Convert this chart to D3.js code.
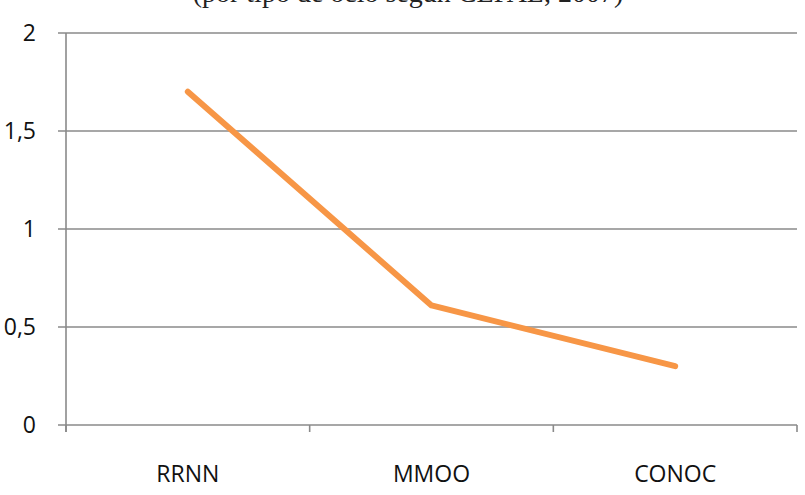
<!DOCTYPE html>
<html>
<head>
<meta charset="utf-8">
<script src="https://cdn.jsdelivr.net/npm/d3@7"></script>
<style>
  body { margin: 0; background: #fff; }
</style>
</head>
<body>
<script>
let width = 805;
let height = 495;

// data
let categories = ["RRNN", "MMOO", "CONOC"];
let values = [1.7, 0.61, 0.3];
let yTicks = [0, 0.5, 1, 1.5, 2];
let titleText = "(por tipo de ocio según CEPAL, 2007)";

let margin = {left: 66, right: 8, top: 33, bottom: 70};

let svg = d3.select("body").append("svg")
            .attr("width", width)
            .attr("height", height);

let x = d3.scaleBand()
          .domain(categories)
          .range([margin.left, width - margin.right]);

let y = d3.scaleLinear()
          .domain([0, 2])
          .range([height - margin.bottom, margin.top]);

// The title, cut off at the top
svg.append("text")
   .attr("x", 408)
   .attr("y", 1.5)
   .attr("text-anchor", "middle")
   .attr("font-family", "Liberation Serif")
   .attr("font-size", 28)
   .attr("fill", "#222")
   .text(titleText);

// gridlines
svg.append("g")
   .selectAll("line")
   .data(yTicks)
   .join("line")
   .attr("x1", margin.left - 8)
   .attr("x2", width - margin.right)
   .attr("y1", d => y(d))
   .attr("y2", d => y(d))
   .attr("stroke", "#8a8a8a")
   .attr("stroke-width", 1.6);

// y axis
let yAxis = svg.append("g")
   .attr("transform", `translate(${margin.left},0)`)
   .call(d3.axisLeft(y)
           .tickValues(yTicks)
           .tickSize(0)
           .tickPadding(30)
           .tickFormat(d => String(d).replace(".", ",")));
yAxis.select(".domain")
     .attr("stroke", "#8a8a8a")
     .attr("stroke-width", 1.6)
     .attr("d", `M0,${y(2)}V${y(0) + 7}`);
yAxis.selectAll("text")
     .attr("font-family", "Open Sans")
     .attr("font-size", 23)
     .attr("fill", "#111");

// x axis
let xAxis = svg.append("g")
   .attr("transform", `translate(0,${y(0)})`)
   .call(d3.axisBottom(x).tickSize(0).tickPadding(41));
xAxis.select(".domain").remove();
xAxis.selectAll("text")
     .attr("font-family", "Open Sans")
     .attr("font-size", 23)
     .attr("fill", "#111");

// x tick marks at band boundaries
let bounds = categories.map(c => x(c)).concat([x(categories[categories.length - 1]) + x.bandwidth()]);
svg.append("g")
   .selectAll("line")
   .data(bounds)
   .join("line")
   .attr("x1", d => d)
   .attr("x2", d => d)
   .attr("y1", y(0))
   .attr("y2", y(0) + 7)
   .attr("stroke", "#8a8a8a")
   .attr("stroke-width", 1.6);

// The line
let line = d3.line()
             .x((d, i) => x(categories[i]) + x.bandwidth() / 2)
             .y(d => y(d));

svg.append("path")
   .datum(values)
   .attr("d", line)
   .attr("fill", "none")
   .attr("stroke", "#f79646")
   .attr("stroke-width", 6)
   .attr("stroke-linecap", "round")
   .attr("stroke-linejoin", "round");
</script>
</body>
</html>
